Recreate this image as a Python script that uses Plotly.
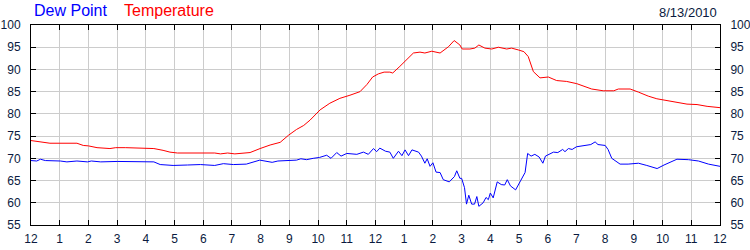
import plotly.graph_objects as go

# Hours since midnight (0 = 12 AM, 24 = next 12 AM)
temp_hours = [0, 0.45, 0.66, 1.6, 1.82, 2.0, 2.3, 2.75, 2.95, 3.3, 3.6, 4.28, 4.6, 4.84, 5.1,
              6.4, 6.6, 6.85, 7.1, 7.5, 7.63, 7.98, 8.33, 8.68, 8.97, 9.25, 9.5, 9.72, 10.07,
              10.41, 10.76, 11.11, 11.46, 11.7, 11.9, 12.1, 12.3, 12.5, 12.6, 12.85, 13.09,
              13.32, 13.55, 13.72, 13.96, 14.25, 14.54, 14.74, 14.94, 15.02, 15.29, 15.46,
              15.6, 15.81, 16.05, 16.28, 16.57, 16.74, 16.97, 17.17, 17.32, 17.5, 17.73,
              18.02, 18.31, 18.66, 19.01, 19.24, 19.53, 19.93, 20.3, 20.46, 20.87, 21.16,
              21.5, 21.8, 22.15, 22.5, 22.85, 23.2, 23.55, 24]
temperature = [74.0, 73.7, 73.4, 73.4, 72.9, 72.8, 72.4, 72.2, 72.4, 72.4, 72.3, 72.2, 71.8,
               71.4, 71.2, 71.2, 71.0, 71.2, 71.0, 71.1, 71.3, 72.2, 73.0, 73.6, 75.2, 76.5,
               77.4, 78.6, 80.9, 82.4, 83.5, 84.2, 85.0, 86.6, 88.3, 89.0, 89.4, 89.4, 89.2,
               90.7, 92.2, 93.7, 93.9, 93.7, 94.1, 93.7, 95.1, 96.5, 95.5, 94.6, 94.6, 94.8,
               95.5, 94.8, 94.6, 95.0, 94.6, 94.8, 94.4, 94.0, 92.9, 89.5, 88.1, 88.3, 87.5,
               87.3, 86.8, 86.2, 85.6, 85.2, 85.2, 85.6, 85.6, 84.9, 84.0, 83.4, 83.0, 82.7,
               82.2, 82.1, 81.7, 81.4]

dew_hours = [0, 0.2, 0.33, 0.5, 1.02, 1.25, 1.6, 1.97, 2.1, 2.43, 3.0, 3.5, 4.28, 4.5, 4.95,
             5.45, 5.9, 6.4, 6.7, 7.05, 7.5, 7.97, 8.32, 8.4, 8.6, 9.25, 9.4, 9.6, 9.83, 10.05,
             10.3, 10.45, 10.65, 10.8, 11.0, 11.35, 11.58, 11.75, 11.93, 12.04, 12.15, 12.35,
             12.5, 12.62, 12.8, 12.92, 13.03, 13.15, 13.27, 13.5, 13.6, 13.72, 13.8, 13.9,
             14.0, 14.11, 14.25, 14.36, 14.57, 14.75, 14.83, 14.94, 15.0, 15.1, 15.17, 15.25,
             15.35, 15.45, 15.53, 15.6, 15.75, 15.85, 15.93, 16.0, 16.1, 16.24, 16.38, 16.5,
             16.59, 16.7, 16.88, 17.04, 17.21, 17.3, 17.42, 17.55, 17.7, 17.83, 17.92, 18.2,
             18.35, 18.52, 18.6, 18.72, 18.85, 19.0, 19.3, 19.5, 19.65, 19.75, 20.0, 20.1,
             20.23, 20.52, 20.8, 21.16, 21.45, 21.81, 22.05, 22.5, 22.9, 23.25, 23.6, 24]
dew_point = [69.5, 69.4, 69.8, 69.5, 69.4, 69.2, 69.4, 69.2, 69.4, 69.2, 69.3, 69.3, 69.2,
             68.6, 68.4, 68.5, 68.6, 68.4, 68.8, 68.6, 68.7, 69.6, 69.3, 69.1, 69.4, 69.6,
             69.9, 69.7, 70.0, 70.2, 70.7, 70.0, 71.3, 70.5, 71.1, 70.9, 71.4, 70.9, 72.2,
             71.5, 72.3, 71.6, 71.4, 70.0, 71.6, 70.6, 71.9, 70.6, 71.9, 71.4, 70.5, 68.9,
             69.9, 68.2, 69.0, 66.9, 66.8, 65.2, 64.7, 65.9, 67.2, 65.5, 65.5, 63.4, 59.7,
             61.7, 59.7, 59.7, 61.4, 59.2, 60.0, 61.2, 60.7, 62.2, 61.1, 64.7, 64.1, 64.0,
             65.2, 63.8, 62.9, 64.9, 66.8, 71.1, 70.5, 70.9, 70.3, 68.9, 70.5, 71.4, 71.3,
             72.0, 71.5, 72.2, 72.0, 72.6, 72.8, 73.1, 73.7, 73.1, 72.9, 72.0, 70.0, 68.7,
             68.7, 68.9, 68.4, 67.7, 68.5, 69.8, 69.7, 69.4, 68.7, 68.2]

x_tickvals = list(range(0, 25))
x_ticktext = ["12", "1", "2", "3", "4", "5", "6", "7", "8", "9", "10", "11",
              "12", "1", "2", "3", "4", "5", "6", "7", "8", "9", "10", "11", "12"]
y_tickvals = [55, 60, 65, 70, 75, 80, 85, 90, 95, 100]
date_label = "8/13/2010"

FONT = "Liberation Sans, Arial, sans-serif"
LABEL_COLOR = "#0a1a40"

fig = go.Figure()
fig.add_trace(go.Scatter(x=dew_hours, y=dew_point, mode="lines",
                         line=dict(color="#0000ff", width=1), name="Dew Point"))
fig.add_trace(go.Scatter(x=temp_hours, y=temperature, mode="lines",
                         line=dict(color="#ff0000", width=1), name="Temperature"))
# invisible trace to show the right-hand axis
fig.add_trace(go.Scatter(x=[0], y=[55], yaxis="y2", mode="markers",
                         marker=dict(opacity=0), hoverinfo="skip", showlegend=False))

axis_common = dict(showline=True, linecolor="black", linewidth=1,
                   ticks="inside", ticklen=5, tickcolor="black",
                   tickfont=dict(family=FONT, size=12, color=LABEL_COLOR),
                   zeroline=False, automargin=False)

fig.update_layout(
    width=750, height=250,
    margin=dict(l=31, r=30, t=25, b=25),
    paper_bgcolor="white", plot_bgcolor="white",
    showlegend=False,
    xaxis=dict(range=[0, 24], tickvals=x_tickvals, ticktext=x_ticktext,
               showgrid=True, gridcolor="#cccccc", gridwidth=1,
               mirror="ticks", ticklabelstandoff=3, **axis_common),
    yaxis=dict(range=[55, 100], tickvals=y_tickvals,
               showgrid=True, gridcolor="#cccccc", gridwidth=1,
               mirror="ticks", ticklabelstandoff=7, **axis_common),
    yaxis2=dict(range=[55, 100], tickvals=y_tickvals, overlaying="y", side="right",
                showgrid=False, ticklabelstandoff=7, **axis_common),
    annotations=[
        dict(text="Dew Point", x=(32 - 31) / 689, y=1 + 14 / 200, xref="paper", yref="paper",
             xanchor="left", yanchor="middle", showarrow=False,
             font=dict(family=FONT, size=16, color="#0000ff")),
        dict(text="Temperature", x=(122 - 31) / 689, y=1 + 14 / 200, xref="paper", yref="paper",
             xanchor="left", yanchor="middle", showarrow=False,
             font=dict(family=FONT, size=16, color="#ff0000")),
        dict(text=date_label, x=(719 - 31) / 689, y=1 + 13 / 200, xref="paper", yref="paper",
             xanchor="right", yanchor="middle", showarrow=False,
             font=dict(family=FONT, size=13, color=LABEL_COLOR)),
    ],
)

fig.write_html("out.html")
